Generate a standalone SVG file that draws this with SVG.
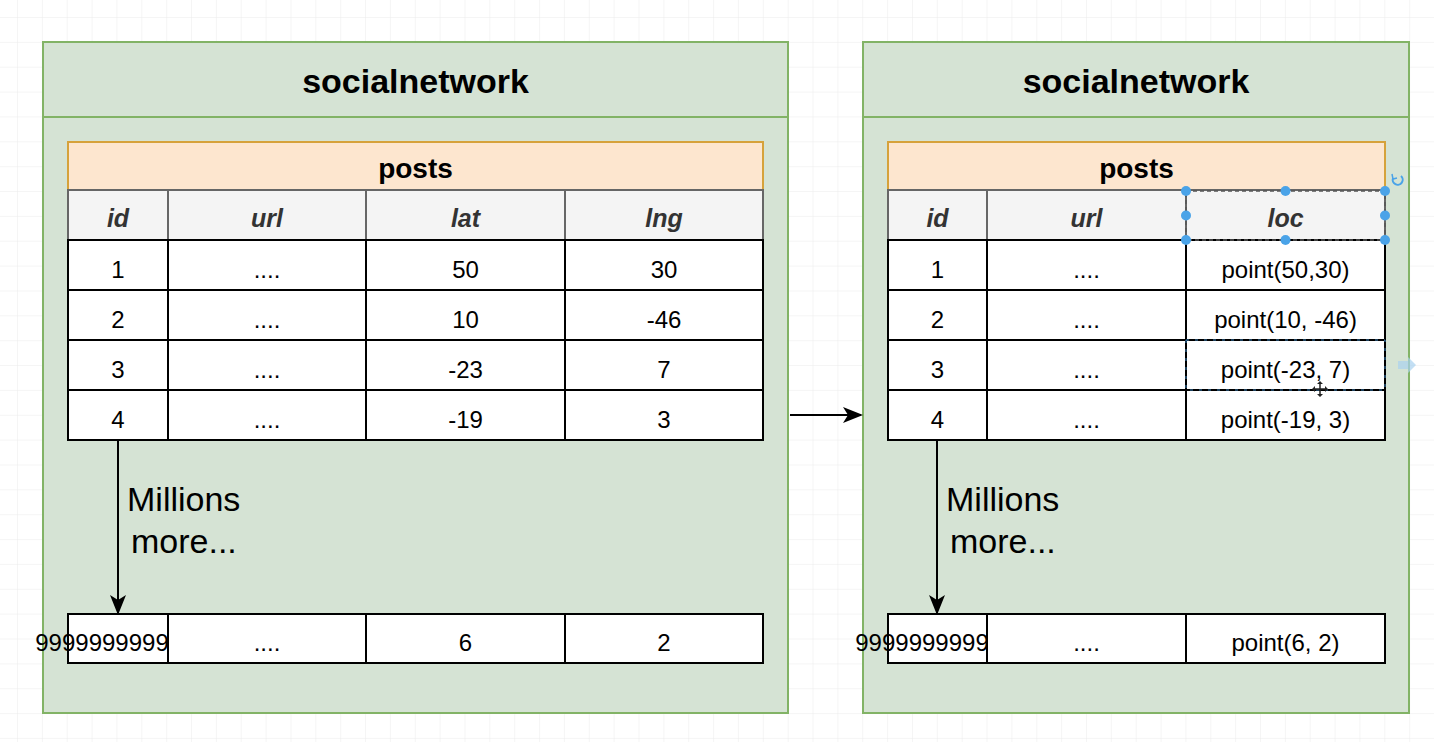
<svg xmlns="http://www.w3.org/2000/svg" width="1434" height="742" viewBox="0 0 1434 742">
  <defs>
    <pattern id="grid" x="17" y="17" width="24.86" height="24.86" patternUnits="userSpaceOnUse">
      <path d="M0 0H24.86M0 0V24.86" fill="none" stroke="#ececec" stroke-width="1"/>
    </pattern>
    <marker id="arrow" viewBox="0 0 20 20" refX="18" refY="10" markerWidth="20" markerHeight="20" markerUnits="userSpaceOnUse" orient="auto">
      <path d="M0 2 L20 10 L0 18 L5 10 Z" fill="#000"/>
    </marker>
  </defs>
  <style>
    text { font-family: "Liberation Sans", Arial, sans-serif; fill: #000; text-anchor: middle; dominant-baseline: central; }
    .db { fill: #d5e3d4; stroke: #82b366; stroke-width: 2; }
    .title { font-size: 34px; font-weight: bold; }
    .tname { fill: #fde6cf; stroke: #d6a23b; stroke-width: 2; }
    .tlabel { font-size: 28px; font-weight: bold; }
    .hcell { fill: #f4f4f4; stroke: #666; stroke-width: 2; }
    .hlabel { font-size: 25px; font-weight: bold; font-style: italic; fill: #333; }
    .cell { fill: #fff; stroke: #000; stroke-width: 2; }
    .val { font-size: 24px; }
    .note { font-size: 34px; text-anchor: start; }
    .edge { fill: none; stroke: #000; stroke-width: 2; }
    .handle { fill: #4aa3e8; }
    .sel { fill: none; stroke: #555; stroke-width: 1.5; stroke-dasharray: 4 3; }
  </style>

  <rect width="1434" height="742" fill="#fff"/>
  <rect width="1434" height="742" fill="url(#grid)"/>

  <!-- Database: lat/lng columns -->
  <g id="db-left">
    <rect class="db" x="43" y="42" width="745" height="671"/>
    <line x1="43" y1="117" x2="788" y2="117" stroke="#82b366" stroke-width="2"/>
    <text class="title" x="415.5" y="81">socialnetwork</text>
  </g>
  <g id="table-left">
    <rect class="tname" x="68" y="142" width="695" height="48"/>
    <text class="tlabel" x="415.5" y="168">posts</text>
    <rect class="hcell" x="68" y="190" width="100" height="50"/>
    <rect class="hcell" x="168" y="190" width="198" height="50"/>
    <rect class="hcell" x="366" y="190" width="199" height="50"/>
    <rect class="hcell" x="565" y="190" width="198" height="50"/>
    <text class="hlabel" x="118" y="218">id</text>
    <text class="hlabel" x="267" y="218">url</text>
    <text class="hlabel" x="465.5" y="218">lat</text>
    <text class="hlabel" x="664" y="218">lng</text>
    <g>
      <rect class="cell" x="68" y="240" width="100" height="50"/>
      <rect class="cell" x="168" y="240" width="198" height="50"/>
      <rect class="cell" x="366" y="240" width="199" height="50"/>
      <rect class="cell" x="565" y="240" width="198" height="50"/>
      <rect class="cell" x="68" y="290" width="100" height="50"/>
      <rect class="cell" x="168" y="290" width="198" height="50"/>
      <rect class="cell" x="366" y="290" width="199" height="50"/>
      <rect class="cell" x="565" y="290" width="198" height="50"/>
      <rect class="cell" x="68" y="340" width="100" height="50"/>
      <rect class="cell" x="168" y="340" width="198" height="50"/>
      <rect class="cell" x="366" y="340" width="199" height="50"/>
      <rect class="cell" x="565" y="340" width="198" height="50"/>
      <rect class="cell" x="68" y="390" width="100" height="50"/>
      <rect class="cell" x="168" y="390" width="198" height="50"/>
      <rect class="cell" x="366" y="390" width="199" height="50"/>
      <rect class="cell" x="565" y="390" width="198" height="50"/>
    </g>
    <text class="val" x="118" y="269">1</text>
    <text class="val" x="267" y="269">....</text>
    <text class="val" x="465.5" y="269">50</text>
    <text class="val" x="664" y="269">30</text>
    <text class="val" x="118" y="319">2</text>
    <text class="val" x="267" y="319">....</text>
    <text class="val" x="465.5" y="319">10</text>
    <text class="val" x="664" y="319">-46</text>
    <text class="val" x="118" y="369">3</text>
    <text class="val" x="267" y="369">....</text>
    <text class="val" x="465.5" y="369">-23</text>
    <text class="val" x="664" y="369">7</text>
    <text class="val" x="118" y="419">4</text>
    <text class="val" x="267" y="419">....</text>
    <text class="val" x="465.5" y="419">-19</text>
    <text class="val" x="664" y="419">3</text>
  </g>
  <g id="lastrow-left">
    <!-- the long id overflows its cell; the next cell is painted over it -->
    <rect class="cell" x="68" y="614" width="100" height="49"/>
    <text class="val" x="102" y="642">9999999999</text>
    <rect class="cell" x="168" y="614" width="198" height="49"/>
    <rect class="cell" x="366" y="614" width="199" height="49"/>
    <rect class="cell" x="565" y="614" width="198" height="49"/>
    <text class="val" x="267" y="642">....</text>
    <text class="val" x="465.5" y="642">6</text>
    <text class="val" x="664" y="642">2</text>
  </g>
  <text class="note" x="127" y="499">Millions</text>
  <text class="note" x="131" y="541">more...</text>

  <!-- Database: point column -->
  <g id="db-right">
    <rect class="db" x="863" y="42" width="546" height="671"/>
    <line x1="863" y1="117" x2="1409" y2="117" stroke="#82b366" stroke-width="2"/>
    <text class="title" x="1136" y="81">socialnetwork</text>
  </g>
  <g id="table-right">
    <rect class="tname" x="888" y="142" width="497" height="48"/>
    <text class="tlabel" x="1136.5" y="168">posts</text>
    <rect class="hcell" x="888" y="190" width="99" height="50"/>
    <rect class="hcell" x="987" y="190" width="199" height="50"/>
    <rect class="hcell" x="1186" y="190" width="199" height="50"/>
    <text class="hlabel" x="937.5" y="218">id</text>
    <text class="hlabel" x="1086.5" y="218">url</text>
    <text class="hlabel" x="1285.5" y="218">loc</text>
    <g>
      <rect class="cell" x="888" y="240" width="99" height="50"/>
      <rect class="cell" x="987" y="240" width="199" height="50"/>
      <rect class="cell" x="1186" y="240" width="199" height="50"/>
      <rect class="cell" x="888" y="290" width="99" height="50"/>
      <rect class="cell" x="987" y="290" width="199" height="50"/>
      <rect class="cell" x="1186" y="290" width="199" height="50"/>
      <rect class="cell" x="888" y="340" width="99" height="50"/>
      <rect class="cell" x="987" y="340" width="199" height="50"/>
      <rect class="cell" x="1186" y="340" width="199" height="50"/>
      <rect class="cell" x="888" y="390" width="99" height="50"/>
      <rect class="cell" x="987" y="390" width="199" height="50"/>
      <rect class="cell" x="1186" y="390" width="199" height="50"/>
    </g>
    <text class="val" x="937.5" y="269">1</text>
    <text class="val" x="1086.5" y="269">....</text>
    <text class="val" x="1285.5" y="269">point(50,30)</text>
    <text class="val" x="937.5" y="319">2</text>
    <text class="val" x="1086.5" y="319">....</text>
    <text class="val" x="1285.5" y="319">point(10, -46)</text>
    <text class="val" x="937.5" y="369">3</text>
    <text class="val" x="1086.5" y="369">....</text>
    <text class="val" x="1285.5" y="369">point(-23, 7)</text>
    <text class="val" x="937.5" y="419">4</text>
    <text class="val" x="1086.5" y="419">....</text>
    <text class="val" x="1285.5" y="419">point(-19, 3)</text>
  </g>
  <g id="lastrow-right">
    <rect class="cell" x="888" y="614" width="99" height="49"/>
    <text class="val" x="922" y="642">9999999999</text>
    <rect class="cell" x="987" y="614" width="199" height="49"/>
    <rect class="cell" x="1186" y="614" width="199" height="49"/>
    <text class="val" x="1086.5" y="642">....</text>
    <text class="val" x="1285.5" y="642">point(6, 2)</text>
  </g>
  <text class="note" x="946" y="499">Millions</text>
  <text class="note" x="950" y="541">more...</text>

  <!-- Connectors -->
  <g id="connectors">
    <line class="edge" x1="118" y1="440" x2="118" y2="613" marker-end="url(#arrow)"/>
    <line class="edge" x1="937" y1="440" x2="937" y2="613" marker-end="url(#arrow)"/>
    <line class="edge" x1="790" y1="415" x2="861" y2="415" marker-end="url(#arrow)"/>
  </g>

  <!-- Editor selection on the loc header cell -->
  <g id="selection">
    <rect class="sel" x="1186" y="191" width="199" height="49"/>
    <circle class="handle" cx="1186" cy="191" r="5"/>
    <circle class="handle" cx="1285.5" cy="191" r="5"/>
    <circle class="handle" cx="1385" cy="191" r="5"/>
    <circle class="handle" cx="1186" cy="215.5" r="5"/>
    <circle class="handle" cx="1385" cy="215.5" r="5"/>
    <circle class="handle" cx="1186" cy="240" r="5"/>
    <circle class="handle" cx="1285.5" cy="240" r="5"/>
    <circle class="handle" cx="1385" cy="240" r="5"/>
    <path d="M1401 176 A5 5 0 1 1 1393 178" fill="none" stroke="#4aa3e8" stroke-width="2"/>
    <path d="M1392 174 L1393 179 L1397 178" fill="none" stroke="#4aa3e8" stroke-width="1.5"/>
  </g>
  <!-- Hover outline on point(-23, 7) -->
  <g id="hover">
    <rect x="1186" y="340" width="199" height="50" fill="none" stroke="#4aa3e8" stroke-width="1" stroke-dasharray="3 6" opacity="0.8"/>
    <path d="M1398 361 H1408 V357 L1416 365 L1408 373 V369 H1398 Z" fill="#a9d2f0" opacity="0.7"/>
    <g transform="translate(1320 389)" fill="#222">
      <rect x="-0.75" y="-6" width="1.5" height="12"/>
      <rect x="-6" y="-0.75" width="12" height="1.5"/>
      <path d="M0 -8 L-3 -5 H3 Z M0 8 L-3 5 H3 Z M-8 0 L-5 -3 V3 Z M8 0 L5 -3 V3 Z"/>
    </g>
  </g>
</svg>
